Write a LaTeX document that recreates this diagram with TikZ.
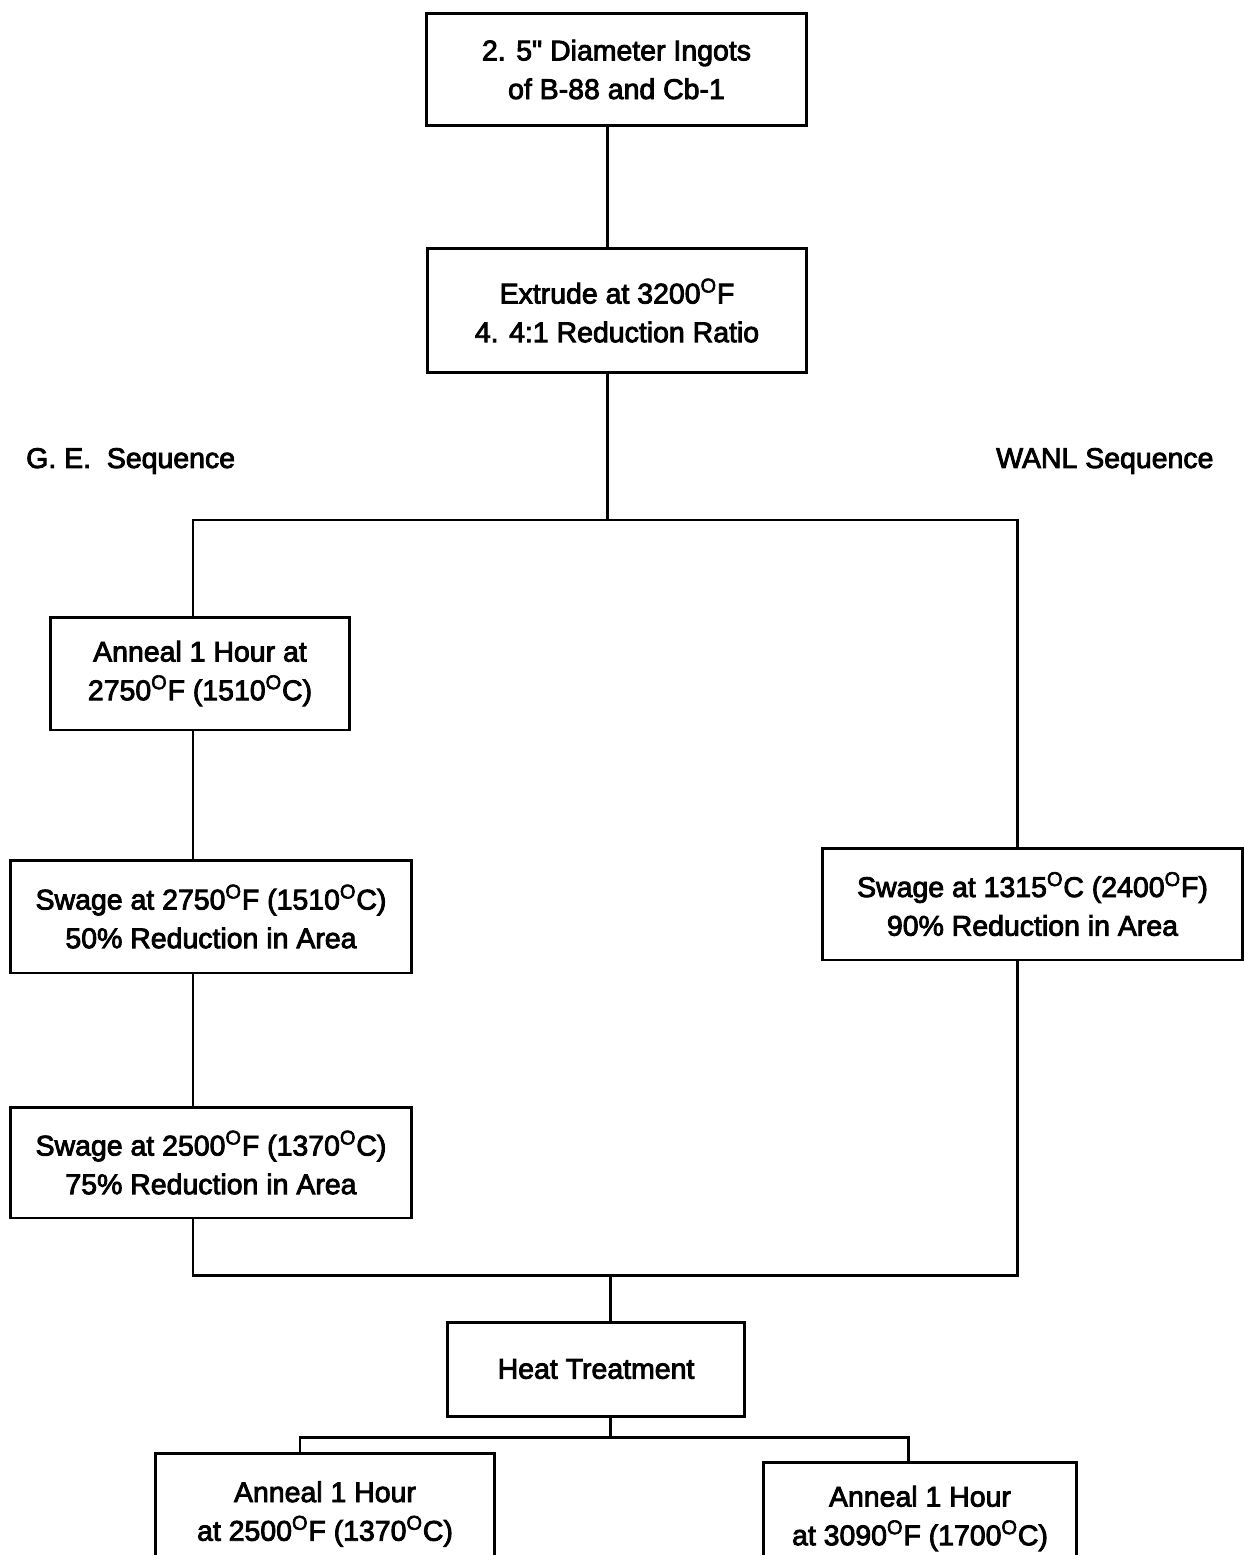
\documentclass[tikz,border=0pt]{standalone}
\usepackage{fontspec}
\setmainfont{Liberation Sans}[FakeBold=3, Ligatures=TeXOff]
\usetikzlibrary{positioning, calc}
\newcommand{\degO}{\textsuperscript{O}}
\tikzset{
  stepbox/.style={
    rectangle, draw=black, line width=1.7pt, inner sep=0pt,
    align=center, font=\fontsize{16.2}{22}\selectfont
  },
  link/.style={line width=1.7pt, black},
  seqlabel/.style={font=\fontsize{16.2}{22}\selectfont, anchor=west}
}
\begin{document}
\begin{tikzpicture}[x=0.02cm, y=-0.02cm]
  \useasboundingbox (0,0) rectangle (1244,1555);
  \clip (0,0) rectangle (1244,1555);
  % Main stem
  \node[stepbox, minimum width=7.62cm, minimum height=2.26cm]
    (ingot) at (616.5,69.5) {2. 5" Diameter Ingots\\of B-88 and Cb-1};
  \node[stepbox, minimum width=7.6cm, minimum height=2.5cm]
    (extrude) at (617,310.5) {Extrude at 3200\degO F\\4. 4:1 Reduction Ratio};
  % Sequence labels
  \node[seqlabel] (gelabel) at (20,461) {G. E.~~Sequence};
  \node[seqlabel] (wanllabel) at (990,461) {WANL Sequence};
  % G.E. branch
  \node[stepbox, minimum width=6cm, minimum height=2.26cm]
    (geanneal) at (200,673.5) {Anneal 1 Hour at\\2750\degO F (1510\degO C)};
  \node[stepbox, minimum width=8.04cm, minimum height=2.26cm]
    (geswageA) at (211,916.5) {Swage at 2750\degO F (1510\degO C)\\50\% Reduction in Area};
  \node[stepbox, minimum width=8.04cm, minimum height=2.22cm]
    (geswageB) at (211,1162.5) {Swage at 2500\degO F (1370\degO C)\\75\% Reduction in Area};
  % WANL branch
  \node[stepbox, minimum width=8.42cm, minimum height=2.24cm]
    (wanlswage) at (1032.5,904) {Swage at 1315\degO C (2400\degO F)\\90\% Reduction in Area};
  % Heat treatment
  \node[stepbox, minimum width=5.96cm, minimum height=1.88cm]
    (heat) at (596,1369) {Heat Treatment};
  \node[stepbox, minimum width=6.8cm, minimum height=2.44cm]
    (annealA) at (325,1514) {Anneal 1 Hour\\at 2500\degO F (1370\degO C)};
  \node[stepbox, minimum width=6.28cm, minimum height=2.26cm]
    (annealB) at (920,1518.5) {Anneal 1 Hour\\at 3090\degO F (1700\degO C)};
  % Junction points
  \coordinate (split) at (607,520);
  \coordinate (gesplit) at (193,520);
  \coordinate (wanlsplit) at (1017,520);
  \coordinate (gejoin) at (193,1275);
  \coordinate (wanljoin) at (1017,1275);
  \coordinate (join) at (610,1275);
  \coordinate (htsplit) at (610,1437);
  \coordinate (htleft) at (300,1437);
  \coordinate (htright) at (908,1437);
  % Connectors
  \draw[link] (ingot.south -| split) -- (extrude.north -| split);
  \draw[link] (extrude.south -| split) -- (split);
  \draw[link] (geanneal.north -| gesplit) -- (gesplit) -- (wanlsplit)
    -- (wanlswage.north -| wanlsplit);
  \draw[link] (geanneal.south -| gesplit) -- (geswageA.north -| gesplit);
  \draw[link] (geswageA.south -| gesplit) -- (geswageB.north -| gesplit);
  \draw[link] (geswageB.south -| gejoin) -- (gejoin) -- (wanljoin)
    -- (wanlswage.south -| wanljoin);
  \draw[link] (join) -- (heat.north -| join);
  \draw[link] (heat.south -| htsplit) -- (htsplit);
  \draw[link] (annealA.north -| htleft) -- (htleft) -- (htright)
    -- (annealB.north -| htright);
\end{tikzpicture}
\end{document}
